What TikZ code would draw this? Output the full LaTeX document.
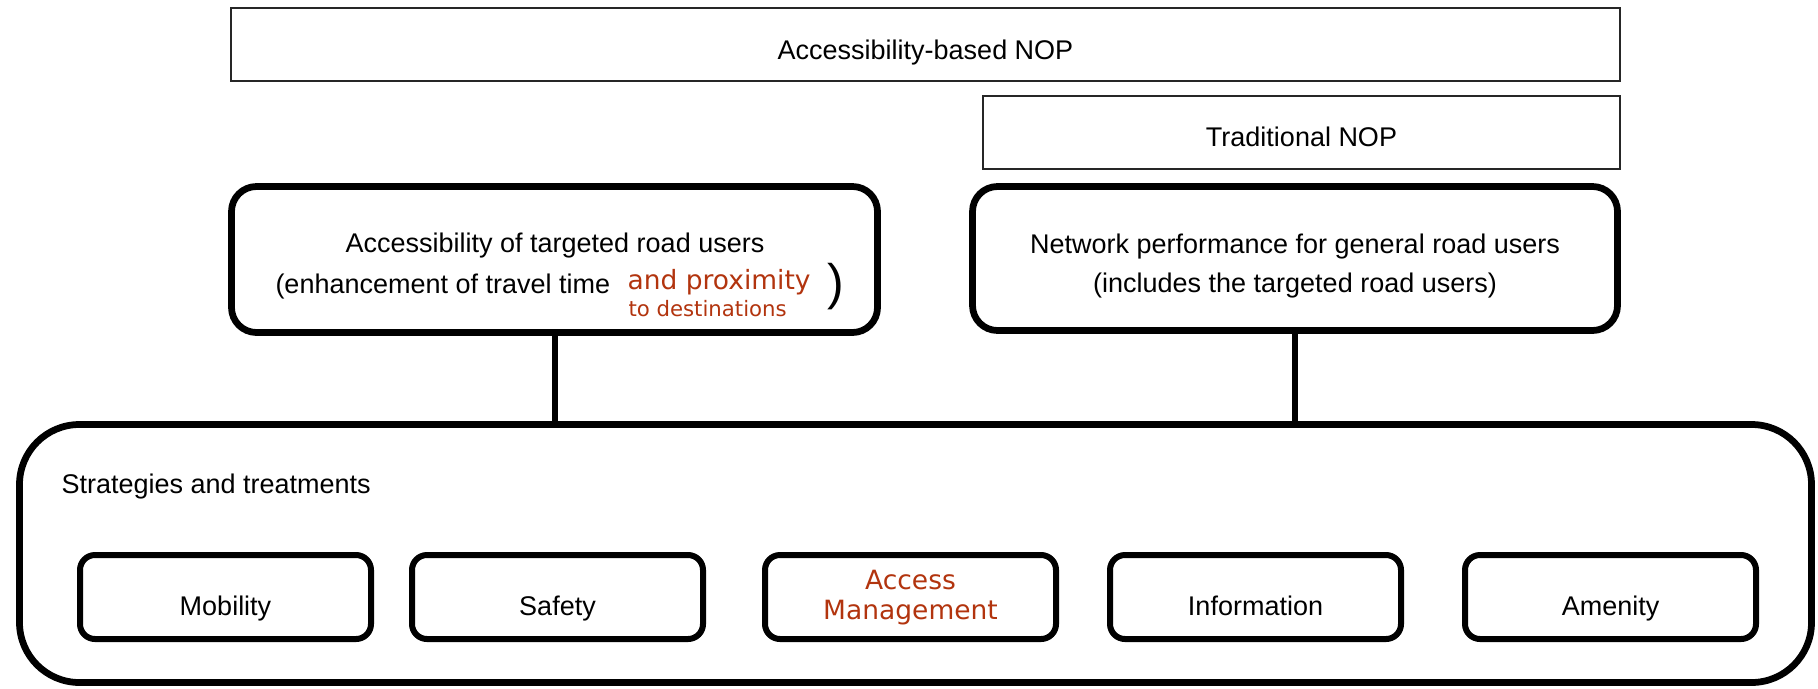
\documentclass[tikz,border=0pt]{standalone}
\usepackage{fontspec}
\setmainfont{Liberation Sans}
\newfontfamily\redfont{DejaVu Sans}
\definecolor{rust}{RGB}{178,52,14}
\newcommand\bsize{\fontsize{10.8pt}{13pt}\selectfont}
\newcommand\rsize{\fontsize{10.6pt}{13pt}\selectfont}
\newcommand\ssize{\fontsize{8.5pt}{10pt}\selectfont}
\begin{document}
\begin{tikzpicture}[x=0.4pt,y=-0.4pt,
  flatbox/.style 2 args={draw=black!85, line width=0.7pt, minimum width=#1*0.4pt, minimum height=#2*0.4pt, inner sep=0pt},
  thickbox/.style 2 args={draw=black, line width=2.7pt, rounded corners=10pt, minimum width=#1*0.4pt, minimum height=#2*0.4pt, inner sep=0pt},
  smallbox/.style={draw=black, line width=2.4pt, rounded corners=6pt, minimum width=291*0.4pt, minimum height=84*0.4pt, inner sep=0pt},
  bigbox/.style 2 args={draw=black, line width=2.7pt, rounded corners=24pt, minimum width=#1*0.4pt, minimum height=#2*0.4pt, inner sep=0pt},
  btext/.style={font=\bsize, inner sep=0pt, anchor=base},
  rtext/.style={font=\redfont\rsize, text=rust, inner sep=0pt, anchor=base},
  conn/.style={draw=black, line width=2.4pt}]
\useasboundingbox (0,0) rectangle (1818,688);

% top boxes
\node[flatbox={1389}{73}] (abn) at (925.5,44.5) {};
\node[btext] (abnt) at (925.5,59) {Accessibility-based NOP};
\node[flatbox={637}{73}] (trad) at (1301.5,132.5) {};
\node[btext] (tradt) at (1301.5,146) {Traditional NOP};

% middle boxes
\node[thickbox={646}{146}] (lb) at (554.5,259.5) {};
\node[btext] (lb1) at (555,252) {Accessibility of targeted road users};
\node[btext, anchor=base west] (lb2) at (275,293) {(enhancement of travel time};
\node[rtext, anchor=base west] (lb3) at (627,289) {and proximity};
\node[rtext, anchor=base west, font=\redfont\ssize] (lb4) at (628,316) {to destinations};
\node[btext, font=\fontsize{20pt}{22pt}\selectfont] (lb5) at (836,299) {)};

\node[thickbox={645}{144}] (rb) at (1295,258.5) {};
\node[btext] (rb1) at (1295,253) {Network performance for general road users};
\node[btext] (rb2) at (1295,292) {(includes the targeted road users)};

% big box
\node[bigbox={1792}{258}] (big) at (915.5,553.5) {};
\node[btext, anchor=base west] (st) at (61,493) {Strategies and treatments};

% connectors
\draw[conn] (lb.south) -- (lb.south |- big.north);
\draw[conn] (rb.south) -- (rb.south |- big.north);

% small boxes
\node[smallbox] (mob) at (225.5,597) {};
\node[btext] (mobt) at (225.5,615) {Mobility};
\node[smallbox] (saf) at (557.5,597) {};
\node[btext] (saft) at (557.5,615) {Safety};
\node[smallbox] (acc) at (910.5,597) {};
\node[rtext] (acct1) at (910.5,589) {Access};
\node[rtext] (acct2) at (910.5,619) {Management};
\node[smallbox] (inf) at (1255.5,597) {};
\node[btext] (inft) at (1255.5,615) {Information};
\node[smallbox] (ame) at (1610.5,597) {};
\node[btext] (amet) at (1610.5,615) {Amenity};
\end{tikzpicture}
\end{document}
